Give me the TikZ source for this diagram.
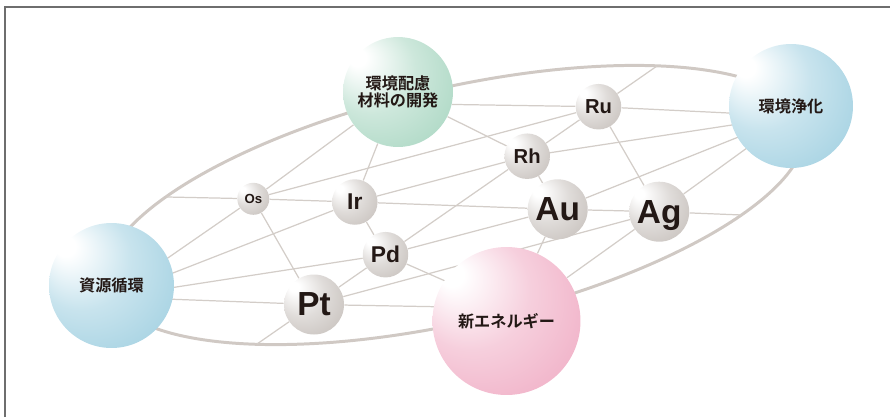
\documentclass[tikz,border=0pt]{standalone}
\usepackage{fontspec}
\newfontfamily\jpfont{Noto Sans CJK JP Bold}
\newfontfamily\elfont{Liberation Sans}
\usetikzlibrary{calc,backgrounds}

\definecolor{ink}{HTML}{231815}
\definecolor{bondgray}{HTML}{D3CDC8}
\definecolor{rimgray}{HTML}{D0C9C4}
\definecolor{framegray}{HTML}{6E6E6E}
\definecolor{grayedge}{HTML}{C0B9B4}
\definecolor{blueedge}{HTML}{9BCDDF}
\definecolor{greenedge}{HTML}{A4D4BE}
\definecolor{pinkedge}{HTML}{EFA8C1}

\pgfdeclareradialshading{sphgray}{\pgfpoint{-18bp}{16bp}}{color(0bp)=(white); color(4bp)=(white); color(20bp)=(grayedge!50!white); color(36bp)=(grayedge!85!white); color(50bp)=(grayedge)}
\pgfdeclareradialshading{sphblue}{\pgfpoint{-20bp}{17bp}}{color(0bp)=(white); color(4bp)=(white); color(20bp)=(blueedge!55!white); color(36bp)=(blueedge!88!white); color(50bp)=(blueedge)}
\pgfdeclareradialshading{sphgreen}{\pgfpoint{-20bp}{17bp}}{color(0bp)=(white); color(4bp)=(white); color(20bp)=(greenedge!55!white); color(36bp)=(greenedge!88!white); color(50bp)=(greenedge)}
\pgfdeclareradialshading{sphpink}{\pgfpoint{-20bp}{17bp}}{color(0bp)=(white); color(4bp)=(white); color(20bp)=(pinkedge!55!white); color(36bp)=(pinkedge!88!white); color(50bp)=(pinkedge)}

\newcommand\elsize[1]{\elfont\bfseries\fontsize{#1}{#1}\selectfont}

\tikzset{
    ballnode/.style={circle, inner sep=0pt, text=ink, shade},
    topic/.style={ballnode, minimum size=#1, align=center,
        font=\jpfont\fontsize{9.2}{9.6}\selectfont},
    elem/.style={ballnode, shading=sphgray, minimum size=#1, text depth=0pt},
    bond/.style={draw=bondgray, line width=0.7pt},
    rim/.style={draw=rimgray, line width=1.7pt},
    frameline/.style={draw=framegray, line width=0.8pt}
}

\begin{document}
\begin{tikzpicture}[x=0.02cm, y=-0.02cm]
    \useasboundingbox (0,0) rectangle (890,417);
    \draw[frameline] (5,417) -- (5,7) -- (890,7);

    \node[topic=2.5cm, shading=sphblue] (src) at (111.5,285.5) {資源循環};
    \node[topic=2.48cm, shading=sphblue] (env) at (791,106) {環境浄化};
    \node[topic=2.2cm, shading=sphgreen] (eco) at (398,92) {環境配慮\\材料の開発};
    \node[topic=2.96cm, shading=sphpink] (neo) at (506.5,321) {新エネルギー};

    \node[elem=0.64cm, font=\elsize{7.5}] (os) at (253.3,198.8) {Os};
    \node[elem=0.91cm, font=\elsize{13}] (ir) at (354.8,202) {Ir};
    \node[elem=0.91cm, font=\elsize{13}] (pd) at (385.5,254.7) {Pd};
    \node[elem=1.2cm, font=\elsize{19}] (pt) at (314,304.5) {Pt};
    \node[elem=0.91cm, font=\elsize{11.5}] (rh) at (527.2,156.2) {Rh};
    \node[elem=0.91cm, font=\elsize{11.5}] (ru) at (598.5,106.7) {Ru};
    \node[elem=1.2cm, font=\elsize{19}] (au) at (557.7,209.3) {Au};
    \node[elem=1.2cm, font=\elsize{19}] (ag) at (659.2,211.7) {Ag};

    \coordinate (srchub) at ($(src)+(0,11.5)$);
    \coordinate (envhub) at ($(env)+(0,10)$);
    \coordinate (neohub) at ($(neo)+(0,-13)$);
    \coordinate (rimW) at (167,197);
    \coordinate (rimN) at (657,66);
    \coordinate (rimS) at (257,344);
    \coordinate (rimE) at (742,215);

    \begin{scope}[on background layer]
        \draw[rim, rotate around={13:(455,205)}] (455,205) ellipse [x radius=358, y radius=117];

        \draw[bond] (rimW) -- (os);
        \draw[bond] (srchub) -- (os);
        \draw[bond] (srchub) -- (ir);
        \draw[bond] (srchub) -- (pd);
        \draw[bond] (srchub) -- (pt);
        \draw[bond] (eco) -- (os);
        \draw[bond] (eco) -- (ir);
        \draw[bond] (eco.-13) -- (ru);
        \draw[bond] (eco) -- (rh);
        \draw[bond] (os) -- (ir);
        \draw[bond] (os) -- (ru);
        \draw[bond] (os) -- (pt);
        \draw[bond] (ir) -- (pd);
        \draw[bond] (ir) -- (rh);
        \draw[bond] (ir) -- (au);
        \draw[bond] (pd) -- (pt);
        \draw[bond] (pd) -- (rh);
        \draw[bond] (pd) -- (au);
        \draw[bond] (pd) -- (neohub);
        \draw[bond] (pt) -- (neohub);
        \draw[bond] (pt) -- (ag);
        \draw[bond] (pt) -- (rimS);
        \draw[bond] (rh) -- (ru);
        \draw[bond] (rh) -- (au);
        \draw[bond] (rh) -- (envhub);
        \draw[bond] (ru) -- (rimN);
        \draw[bond] (ru) -- (envhub);
        \draw[bond] (ru) -- (ag);
        \draw[bond] (au) -- (ag);
        \draw[bond] (au) -- (envhub);
        \draw[bond] (au) -- (neo);
        \draw[bond] (ag) -- (envhub);
        \draw[bond] (ag) -- (rimE);
        \draw[bond] (ag) -- (neo);
    \end{scope}
\end{tikzpicture}
\end{document}
